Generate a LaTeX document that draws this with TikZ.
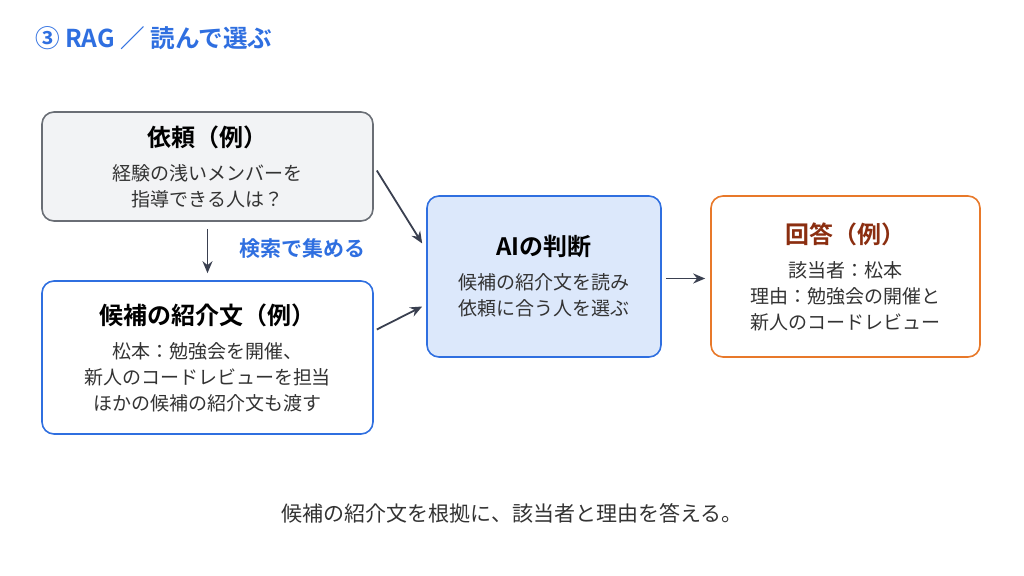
\documentclass[tikz,border=0pt]{standalone}
\usepackage{fontspec}
\setmainfont{Noto Sans CJK JP}[BoldFont={Noto Sans CJK JP Bold}]
\usetikzlibrary{arrows.meta}
\definecolor{rblue}{HTML}{2F6FE0}
\definecolor{rgrayfill}{HTML}{F2F3F5}
\definecolor{rgrayline}{HTML}{6A6E75}
\definecolor{raifill}{HTML}{DCE8FB}
\definecolor{rorange}{HTML}{E8792A}
\definecolor{rbrown}{HTML}{8B2E10}
\definecolor{rtext}{HTML}{333333}
\definecolor{rarrow}{HTML}{3A4050}
\begin{document}
\begin{tikzpicture}[x=0.5pt,y=-0.5pt,
% common options for the boxes:
box/.style = {rectangle, rounded corners=6pt, line width=0.8pt, align=center,
            inner sep=0, font=\fontsize{9.5}{13}\selectfont, text=rtext},
% common options for the arrows:
link/.style = {-{Stealth[length=6pt,width=5pt]}, draw=rarrow, line width=0.9pt}]
\useasboundingbox (0,0) rectangle (1024,576);
\node[anchor=west, text=rblue, font=\fontsize{12.3}{14}\selectfont\bfseries] (title) at (28,38) {③ RAG ／ 読んで選ぶ};
\node[box, draw=rgrayline, fill=rgrayfill, minimum width=165.5pt, minimum height=54.5pt] (req) at (207.5,166.5)
  {\textcolor{black}{\fontsize{12}{14}\selectfont\bfseries 依頼（例）}\\[4pt]経験の浅いメンバーを\\指導できる人は？};
\node[box, draw=rblue, fill=white, minimum width=165.5pt, minimum height=76.5pt] (cand) at (207.5,357.5)
  {\textcolor{black}{\fontsize{12}{14}\selectfont\bfseries 候補の紹介文（例）}\\[4pt]松本：勉強会を開催、\\新人のコードレビューを担当\\ほかの候補の紹介文も渡す};
\node[box, draw=rblue, fill=raifill, minimum width=117pt, minimum height=80.5pt] (ai) at (544,276.5)
  {\textcolor{black}{\fontsize{12}{14}\selectfont\bfseries AIの判断}\\[4pt]候補の紹介文を読み\\依頼に合う人を選ぶ};
\node[box, draw=rorange, fill=white, minimum width=134.5pt, minimum height=80.5pt] (ans) at (845.5,276.5)
  {\textcolor{rbrown}{\fontsize{12}{14}\selectfont\bfseries 回答（例）}\\[4pt]該当者：松本\\理由：勉強会の開催と\\新人のコードレビュー};
\node[anchor=west, text=rblue, font=\fontsize{10.5}{12}\selectfont\bfseries] (search) at (232,249) {検索で集める};
\node[text=rtext, font=\fontsize{10.5}{12}\selectfont] (note) at (512,513) {候補の紹介文を根拠に、該当者と理由を答える。};
\draw[link] ([yshift=-3.5pt]req.south) -- ([yshift=3.5pt]cand.north);
\draw[link] ([xshift=1.5pt,yshift=-2pt]req.east) -- ([xshift=-2pt,yshift=16.5pt]ai.west);
\draw[link] ([xshift=1.5pt,yshift=14pt]cand.east) -- ([xshift=-2pt,yshift=-15pt]ai.west);
\draw[link] ([xshift=2pt,yshift=-1pt]ai.east) -- ([xshift=-2.5pt,yshift=-1pt]ans.west);
\end{tikzpicture}
\end{document}
